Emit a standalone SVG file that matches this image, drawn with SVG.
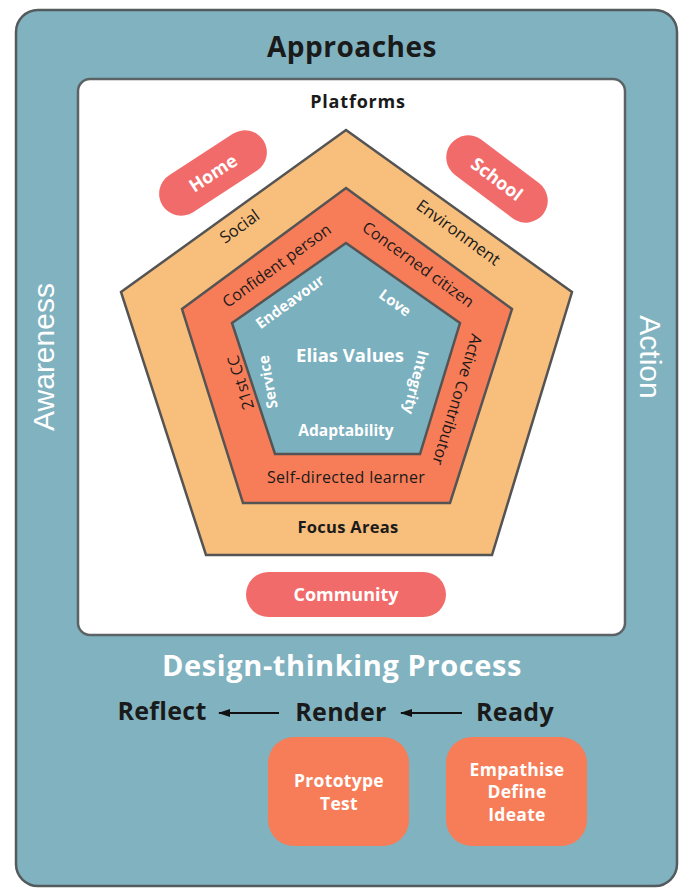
<svg xmlns="http://www.w3.org/2000/svg" width="693" height="895" viewBox="0 0 693 895">
<defs>
<style>
.t{font-family:"Open Sans","Liberation Sans",sans-serif;}
.b{font-weight:700;}
.dk{fill:#1a1a1a;}
.wh{fill:#ffffff;}
.edge{stroke:#545454;stroke-width:2.5;stroke-linejoin:miter;}
.pill{fill:#F26B6B;}
.box{fill:#F77D58;}
</style>
<marker id="ah" viewBox="0 0 12 10" refX="11" refY="5" markerWidth="12" markerHeight="10" orient="auto" markerUnits="userSpaceOnUse">
<path d="M0,1 L12,5 L0,9 Z" fill="#111"/>
</marker>
</defs>
<g id="frame">
<rect x="16" y="10" width="661" height="876" rx="22" fill="#80B2BF" stroke="#545b5e" stroke-width="2.5"/>
<text class="t b dk" x="352" y="57" font-size="28" text-anchor="middle" letter-spacing="0.5">Approaches</text>
<text x="54" y="357" font-family="Liberation Sans,Arial,sans-serif" font-size="30" fill="#fff" text-anchor="middle" transform="rotate(-90 54 357)">Awareness</text>
<text x="640" y="357" font-family="Liberation Sans,Arial,sans-serif" font-size="30" fill="#fff" text-anchor="middle" transform="rotate(90 640 357)">Action</text>
</g>
<g id="platforms">
<rect x="78" y="79" width="547" height="556" rx="12" fill="#ffffff" stroke="#5c6366" stroke-width="2.5"/>
<text class="t b dk" x="358" y="108" font-size="18" text-anchor="middle" letter-spacing="0.8">Platforms</text>
</g>
<g id="focus-areas">
<polygon class="edge" points="346,130 572,292 492,555 206,555 121,292" fill="#F7BE7C"/>
<text class="t dk" font-size="16.5" text-anchor="middle" transform="translate(243,231) rotate(-36)">Social</text>
<text class="t dk" font-size="16.5" text-anchor="middle" transform="translate(455,237) rotate(36)">Environment</text>
<text class="t b dk" x="348" y="533" font-size="16.5" text-anchor="middle" letter-spacing="0.3">Focus Areas</text>
</g>
<g id="competencies">
<polygon class="edge" points="346,188 512,309 450,503 243,503 182,309" fill="#F77D58"/>
<text class="t dk" font-size="16" text-anchor="middle" transform="translate(280,270) rotate(-36)">Confident person</text>
<text class="t dk" font-size="16" text-anchor="middle" transform="translate(415,269) rotate(36)">Concerned citizen</text>
<text class="t dk" font-size="16" text-anchor="middle" transform="translate(246,381) rotate(-107)">21st CC</text>
<text class="t dk" font-size="16" text-anchor="middle" transform="translate(452,398) rotate(107)">Active Contributor</text>
<text class="t dk" x="346" y="483" font-size="16" text-anchor="middle" letter-spacing="0.3">Self-directed learner</text>
</g>
<g id="values">
<polygon class="edge" points="346,243 460,323 420,454 275,454 232,323" fill="#7BB0BE"/>
<text class="t b wh" x="350" y="362" font-size="18.5" text-anchor="middle">Elias Values</text>
<text class="t b wh" font-size="15" text-anchor="middle" transform="translate(293,306) rotate(-36)">Endeavour</text>
<text class="t b wh" font-size="15" text-anchor="middle" transform="translate(392,307) rotate(36)">Love</text>
<text class="t b wh" font-size="15" text-anchor="middle" transform="translate(273,381) rotate(-100)">Service</text>
<text class="t b wh" font-size="15" text-anchor="middle" transform="translate(411,381) rotate(104)">Integrity</text>
<text class="t b wh" x="346" y="436" font-size="15.5" text-anchor="middle">Adaptability</text>
</g>
<g id="home" transform="translate(213,173) rotate(-33)">
<rect class="pill" x="-60" y="-22" width="120" height="44" rx="22"/>
<text class="t b wh" x="0" y="6.5" font-size="18" text-anchor="middle">Home</text>
</g>
<g id="school" transform="translate(497,179) rotate(37)">
<rect class="pill" x="-58" y="-22" width="116" height="44" rx="22"/>
<text class="t b wh" x="0" y="6.5" font-size="18" text-anchor="middle">School</text>
</g>
<g id="community">
<rect class="pill" x="246" y="572" width="200" height="45" rx="22.5"/>
<text class="t b wh" x="346" y="601" font-size="18" text-anchor="middle">Community</text>
</g>
<g id="design-title">
<text class="t b wh" x="342" y="676" font-size="29" text-anchor="middle" letter-spacing="0.6">Design-thinking Process</text>
</g>
<g id="reflect"><text class="t b dk" x="162" y="720" font-size="25" text-anchor="middle" letter-spacing="0.3">Reflect</text></g>
<g id="render"><text class="t b dk" x="341" y="721" font-size="25" text-anchor="middle" letter-spacing="0.3">Render</text></g>
<g id="ready"><text class="t b dk" x="515" y="721" font-size="25" text-anchor="middle" letter-spacing="0.3">Ready</text></g>
<g id="prototype">
<rect class="box" x="268" y="737" width="141" height="109" rx="26"/>
<text class="t b wh" x="339" y="787" font-size="17.5" text-anchor="middle" letter-spacing="0.3">Prototype</text>
<text class="t b wh" x="339" y="810" font-size="17.5" text-anchor="middle" letter-spacing="0.3">Test</text>
</g>
<g id="empathise">
<rect class="box" x="446" y="737" width="141" height="109" rx="26"/>
<text class="t b wh" x="517" y="776" font-size="17.5" text-anchor="middle" letter-spacing="0.3">Empathise</text>
<text class="t b wh" x="517" y="798" font-size="17.5" text-anchor="middle" letter-spacing="0.3">Define</text>
<text class="t b wh" x="517" y="821" font-size="17.5" text-anchor="middle" letter-spacing="0.3">Ideate</text>
</g>
<g id="connectors" stroke="#111" stroke-width="2" fill="none">
<line x1="279" y1="713" x2="219" y2="713" marker-end="url(#ah)"/>
<line x1="462" y1="713" x2="401" y2="713" marker-end="url(#ah)"/>
</g>
</svg>
